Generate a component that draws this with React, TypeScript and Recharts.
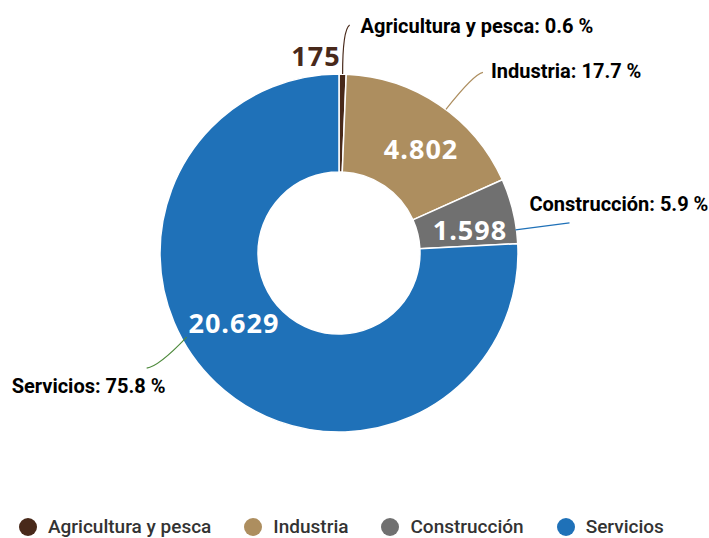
import { PieChart, Pie, Cell, Legend } from 'recharts';

const sectors = ['Agricultura y pesca', 'Industria', 'Construcción', 'Servicios'];
const workers = [175, 4802, 1598, 20629];
const shares = [0.6, 17.7, 5.9, 75.8];
const valueLabels = ['175', '4.802', '1.598', '20.629'];

const COLORS = ['#48291a', '#ad8e5f', '#707070', '#1f71b8'];
const LINE_COLORS = ['#48291a', '#ad8e5f', '#1f71b8', '#4e8a3c'];

// per-label placement tweaks (angles in degrees, offsets in px)
const LAYOUT = [
  { lineShift: 0, lineR: 0, end: [7, -49], ctrl: [0, 0.9], text: [11, 8], valShift: 7.8, valR: 199, valColor: '#48291a' },
  { lineShift: -2.6, lineR: 0, end: [37, -37], ctrl: [0.75, 0.95], text: [8, 6], valShift: -4, valR: 133, valColor: '#fff' },
  { lineShift: -6.1, lineR: -1, end: [54, -7], ctrl: [0.5, 0.5], text: [-40, -12], valShift: -3.5, valR: 133, valColor: '#fff' },
  { lineShift: -17.6, lineR: -5, end: [-40, 31], ctrl: [0.7, 0.95], text: [-135, 25], valShift: -13, valR: 126, valColor: '#fff' },
];

const data = sectors.map((name, i) => ({ name, value: workers[i] }));

const RAD = Math.PI / 180;
const polar = (cx: number, cy: number, r: number, a: number) => ({
  x: cx + r * Math.cos(-a * RAD),
  y: cy + r * Math.sin(-a * RAD),
});

function renderLabel(props: any) {
  const { cx, cy, midAngle, outerRadius } = props;
  let i = props.index;
  if (i === undefined) i = sectors.indexOf(props.name);
  const l = LAYOUT[i];
  const s = polar(cx, cy, outerRadius + l.lineR, midAngle + l.lineShift);
  const e = { x: s.x + l.end[0], y: s.y + l.end[1] };
  const c = { x: s.x + l.end[0] * l.ctrl[0], y: s.y + l.end[1] * l.ctrl[1] };
  const v = polar(cx, cy, l.valR, midAngle + l.valShift);
  return (
    <g key={`lbl-${i}`}>
      <path
        d={`M${s.x},${s.y} Q${c.x},${c.y} ${e.x},${e.y}`}
        stroke={LINE_COLORS[i]}
        strokeWidth={1.2}
        fill="none"
      />
      <text
        x={e.x + l.text[0]}
        y={e.y + l.text[1]}
        fill="#000"
        fontFamily="Roboto"
        fontWeight={700}
        fontSize={20}
        textAnchor="start"
      >
        {`${sectors[i]}: ${shares[i]} %`}
      </text>
      <text
        x={v.x}
        y={v.y}
        fill={l.valColor}
        fontFamily="Open Sans"
        fontWeight={700}
        fontSize={27}
        letterSpacing={1}
        textAnchor="middle"
        dominantBaseline="central"
      >
        {valueLabels[i]}
      </text>
    </g>
  );
}

function LegendContent() {
  return (
    <div style={{ display: 'flex', alignItems: 'center', paddingLeft: 19, fontFamily: 'Roboto', fontWeight: 500, fontSize: 19, lineHeight: '19px', color: '#333' }}>
      {sectors.map((s, i) => (
        <div key={s} style={{ display: 'flex', alignItems: 'center', marginRight: 33 }}>
          <span style={{ width: 18, height: 18, borderRadius: '50%', background: COLORS[i], display: 'inline-block', marginRight: 11 }} />
          <span>{s}</span>
        </div>
      ))}
    </div>
  );
}

export default function App() {
  return (
    <div style={{ width: 709, height: 538, background: '#fff', overflow: 'hidden' }}>
      <style>{'body{margin:0}'}</style>
      <PieChart width={709} height={538} margin={{ top: 0, right: 0, bottom: 0, left: 0 }}>
        <Pie
          data={data}
          dataKey="value"
          cx={339}
          cy={253}
          innerRadius={81}
          outerRadius={179}
          startAngle={90}
          endAngle={-270}
          stroke="#fff"
          strokeWidth={1.5}
          label={renderLabel}
          labelLine={false}
          isAnimationActive={false}
        >
          {data.map((_, index) => (
            <Cell key={`cell-${index}`} fill={COLORS[index]} />
          ))}
        </Pie>
        <Legend content={<LegendContent />} wrapperStyle={{ left: 0, top: 517, width: 709 }} />
      </PieChart>
    </div>
  );
}
